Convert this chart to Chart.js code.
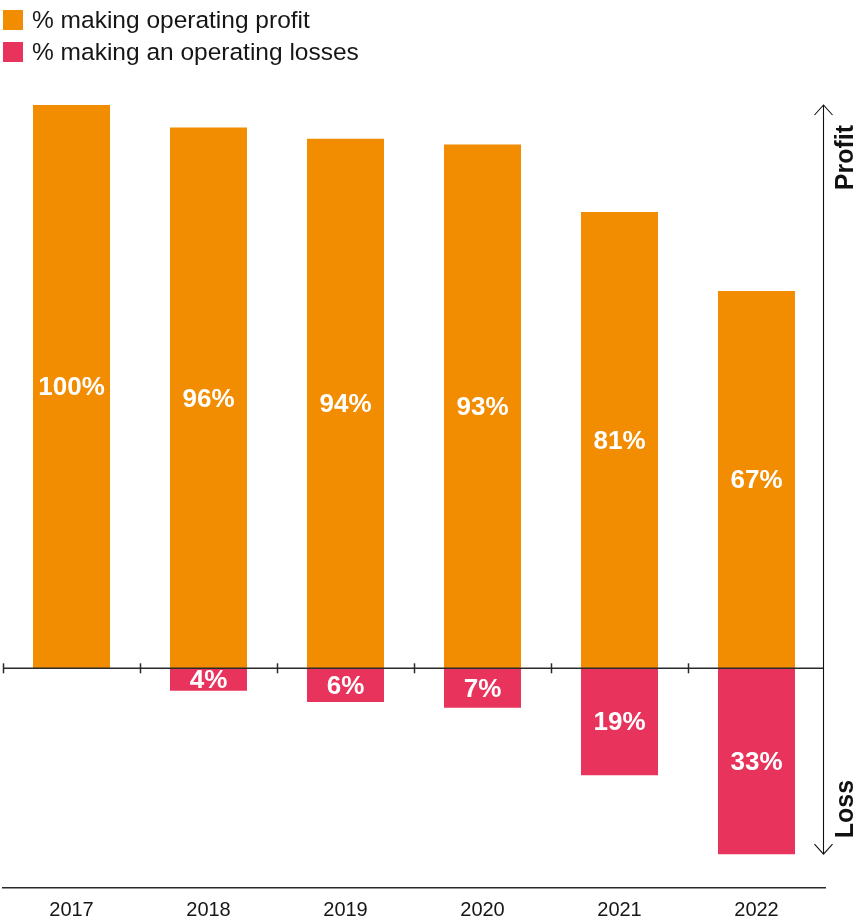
<!DOCTYPE html>
<html><head><meta charset="utf-8">
<script src="https://cdn.jsdelivr.net/npm/chart.js@4/dist/chart.umd.min.js"></script>
<style>html,body{margin:0;padding:0;background:#fff}canvas{display:block}</style>
</head><body>
<canvas id="c" width="854" height="917"></canvas>
<script>
const years = ['2017', '2018', '2019', '2020', '2021', '2022'];
const profitPct = [100, 96, 94, 93, 81, 67];
const lossPct = [0, 4, 6, 7, 19, 33];
const seriesLabels = ['% making operating profit', '% making an operating losses'];
const seriesColors = ['#F28C00', '#E8345C'];
const sideLabels = ['Profit', 'Loss'];

const FONT = '"Liberation Sans", Arial, Helvetica, sans-serif';
const INK = '#161616';

const overlay = {
  id: 'overlay',
  afterDatasetsDraw(chart) {
    const {ctx, chartArea, scales} = chart;
    const x = scales.x, y = scales.y;
    const zeroY = y.getPixelForValue(0);
    const step = x.getPixelForValue(1) - x.getPixelForValue(0);
    ctx.save();
    // value labels
    ctx.fillStyle = '#ffffff';
    ctx.font = 'bold 26px ' + FONT;
    ctx.textAlign = 'center';
    ctx.textBaseline = 'middle';
    chart.data.datasets.forEach((ds, di) => {
      const meta = chart.getDatasetMeta(di);
      meta.data.forEach((el, i) => {
        const v = Math.abs(ds.data[i]);
        if (!v) return;
        ctx.fillText(v + '%', el.x, (el.y + el.base) / 2 + 1.5);
      });
    });
    // zero line with ticks
    ctx.strokeStyle = '#2a2a2a';
    ctx.lineWidth = 1.6;
    ctx.beginPath();
    ctx.moveTo(chartArea.left, zeroY);
    ctx.lineTo(chartArea.right - 2, zeroY);
    ctx.stroke();
    ctx.lineWidth = 1.5;
    for (let i = 0; i < years.length; i++) {
      const tx = Math.round(x.getPixelForValue(i) - step / 2) + 0.5;
      ctx.beginPath();
      ctx.moveTo(tx, zeroY - 5);
      ctx.lineTo(tx, zeroY + 5);
      ctx.stroke();
    }
    // vertical double arrow
    const ax = chartArea.right - 1.5;
    const topY = y.getPixelForValue(Math.max(...profitPct));
    const botY = y.getPixelForValue(-Math.max(...lossPct));
    ctx.strokeStyle = '#111';
    ctx.lineWidth = 1.1;
    ctx.beginPath();
    ctx.moveTo(ax, topY);
    ctx.lineTo(ax, botY);
    ctx.moveTo(ax - 9, topY + 10); ctx.lineTo(ax, topY); ctx.lineTo(ax + 9, topY + 10);
    ctx.moveTo(ax - 9, botY - 10); ctx.lineTo(ax, botY); ctx.lineTo(ax + 9, botY - 10);
    ctx.stroke();
    // side labels
    ctx.fillStyle = '#111';
    ctx.font = 'bold 25px ' + FONT;
    ctx.textAlign = 'center';
    ctx.textBaseline = 'middle';
    [[sideLabels[0], 157.5], [sideLabels[1], 809]].forEach(([t, cy]) => {
      ctx.save();
      ctx.translate(846, cy);
      ctx.rotate(-Math.PI / 2);
      ctx.fillText(t, 0, 0);
      ctx.restore();
    });
    // legend
    ctx.font = '24.5px ' + FONT;
    ctx.textAlign = 'left';
    ctx.textBaseline = 'middle';
    seriesLabels.forEach((t, i) => {
      const cy = 20 + i * 32;
      ctx.fillStyle = seriesColors[i];
      ctx.fillRect(3, cy - 10, 20, 20);
      ctx.fillStyle = INK;
      ctx.fillText(t, 32, cy + 1);
    });
    ctx.restore();
  }
};

new Chart(document.getElementById('c'), {
  type: 'bar',
  data: {
    labels: years,
    datasets: [
      {label: seriesLabels[0], data: profitPct, backgroundColor: seriesColors[0]},
      {label: seriesLabels[1], data: lossPct.map(v => -v), backgroundColor: seriesColors[1]}
    ]
  },
  options: {
    responsive: false,
    animation: false,
    devicePixelRatio: 1,
    layout: {padding: {left: 3, right: 29, top: 105, bottom: 0}},
    plugins: {legend: {display: false}, tooltip: {enabled: false}},
    datasets: {bar: {categoryPercentage: 1, barPercentage: 0.562, borderWidth: 0}},
    scales: {
      x: {
        stacked: true,
        grid: {display: false, drawTicks: false},
        border: {display: true, color: '#2a2a2a', width: 1.4},
        ticks: {font: {family: FONT, size: 20}, color: INK, padding: 10, maxRotation: 0},
        afterFit(s) { s.height = 29; }
      },
      y: {
        stacked: true,
        display: false,
        min: -39,
        max: 100
      }
    }
  },
  plugins: [overlay]
});
</script>
</body></html>
